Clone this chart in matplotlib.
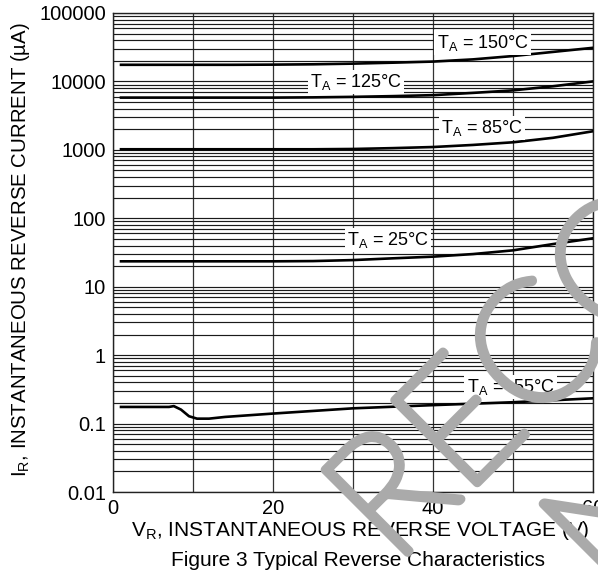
import matplotlib
matplotlib.use("Agg")
import matplotlib.pyplot as plt
import matplotlib.patheffects as pe
from matplotlib.ticker import FixedLocator, FuncFormatter, LogLocator, NullFormatter

plt.rcParams["font.family"] = ["Liberation Sans", "DejaVu Sans"]

# reverse voltage (V) and reverse current (uA) per ambient temperature
v_hot = [1, 5, 10, 15, 20, 25, 30, 35, 40, 45, 50, 55, 60]
i_150 = [17500, 17500, 17500, 17500, 17600, 17800, 18200, 18800, 19500, 21000, 23500, 27000, 31000]
i_125 = [5800, 5800, 5800, 5800, 5800, 5850, 5950, 6100, 6300, 6800, 7400, 8500, 10000]
i_85 = [1020, 1020, 1020, 1020, 1020, 1020, 1030, 1060, 1100, 1180, 1290, 1500, 1870]
i_25 = [23.5, 23.5, 23.5, 23.5, 23.5, 23.7, 24.5, 26, 27.5, 30, 34, 42, 51]

v_cold = [1, 7, 7.6, 8.5, 9.5, 10.5, 12, 14, 20, 30, 40, 50, 60]
i_m55 = [0.175, 0.175, 0.18, 0.16, 0.128, 0.118, 0.118, 0.125, 0.14, 0.167, 0.186, 0.205, 0.234]

# label text and where it sits (V, uA)
labels = ["150", "125", "85", "25", "-55"]
label_v = [46.2, 30.4, 46.1, 34.4, 49.7]
label_i = [37000, 9800, 2090, 48, 0.34]

y_ticks = [0.01, 0.1, 1, 10, 100, 1000, 10000, 100000]
x_ticks = [0, 20, 40, 60]

fig = plt.figure(figsize=(5.98, 5.73), dpi=100)
ax = fig.add_axes([113 / 598, 1 - 492 / 573, 480 / 598, 479 / 573])

ax.set_yscale("log")
ax.set_xlim(0, 60)
ax.set_ylim(0.01, 100000)

ax.yaxis.set_major_locator(FixedLocator(y_ticks))
ax.yaxis.set_major_formatter(FuncFormatter(lambda v, p: "%g" % v if v < 1e5 else "100000"))
ax.yaxis.set_minor_locator(LogLocator(base=10, subs=range(2, 10), numticks=20))
ax.yaxis.set_minor_formatter(NullFormatter())
ax.xaxis.set_major_locator(FixedLocator(x_ticks))
ax.xaxis.set_minor_locator(FixedLocator([10, 30, 50]))

ax.grid(True, which="both", axis="y", color="#1a1a1a", lw=0.85)
ax.grid(True, which="both", axis="x", color="#333333", lw=0.9)
ax.tick_params(which="both", length=0)
ax.tick_params(axis="y", labelsize=14.5, pad=5)
ax.tick_params(axis="x", labelsize=14.5, pad=5)
for s in ax.spines.values():
    s.set_color("#222222")
    s.set_linewidth(1.0)

for v, cur in [(v_hot, i_150), (v_hot, i_125), (v_hot, i_85), (v_hot, i_25), (v_cold, i_m55)]:
    ax.plot(v, cur, color="black", lw=1.9, zorder=3)

for t, x, y in zip(labels, label_v, label_i):
    ax.text(x, y, r"T$_\mathregular{A}$ = %s°C" % t, fontsize=13, ha="center", va="center",
            zorder=4, bbox=dict(facecolor="white", edgecolor="none", pad=1.5))

fig.text(21 / 598, 1 - 250 / 573, r"I$_\mathregular{R}$, INSTANTANEOUS REVERSE CURRENT (µA)",
         rotation=90, ha="center", va="center", fontsize=14.7)
fig.text(360 / 598, 1 - 530 / 573, r"V$_\mathregular{R}$, INSTANTANEOUS REVERSE VOLTAGE (V)",
         ha="center", va="center", fontsize=15)
fig.text(358 / 598, 1 - 560 / 573, "Figure 3 Typical Reverse Characteristics",
         ha="center", va="center", fontsize=15)

# grey watermark across the plot, two lines
mark = dict(rotation=45, rotation_mode="anchor", ha="left", va="baseline", fontsize=120,
            color="#aaaaaa", zorder=10, family=["Lato", "Roboto", "DejaVu Sans"],
            fontweight="light",
            path_effects=[pe.Stroke(linewidth=6.5, foreground="#aaaaaa"), pe.Normal()])
fig.text(394 / 598, 1 - 566 / 573, "RECOMMENDED", **mark)
fig.text(612 / 598, 1 - 600 / 573, "NEW DESIGN", **mark)

fig.savefig("out.png", dpi=100)
